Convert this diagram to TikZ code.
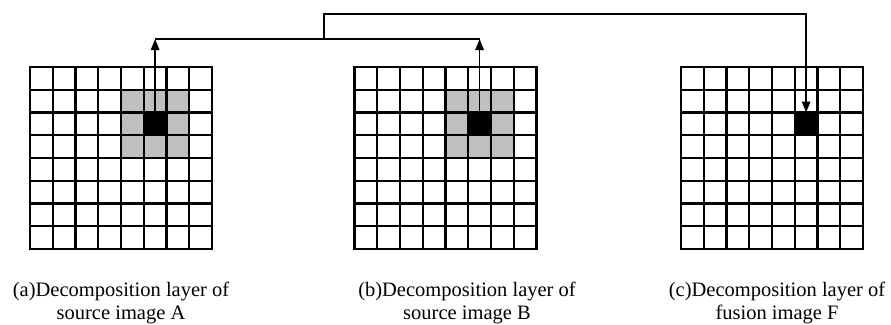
\documentclass[tikz,border=0pt]{standalone}
\usepackage{fontspec}
\setmainfont{Liberation Serif}
\usetikzlibrary{arrows.meta}
\begin{document}
\begin{tikzpicture}[x=1pt,y=-1pt,
  gridline/.style={line width=2.2pt, line cap=rect},
  conn/.style={line width=1.4pt},
  tipend/.style={-{Triangle[length=11pt,width=8.5pt]}},
  cellbox/.style={minimum size=22.75pt, inner sep=0pt, outer sep=0pt, draw=none},
  lbl/.style={font=\fontsize{20.5}{23}\selectfont, align=center, inner sep=0pt}]
\useasboundingbox (0,0) rectangle (891,324);
\def\cs{22.75}
% gray neighbourhoods
\foreach \ox in {30,354.5}{
  \fill[gray!50] (\ox+4*\cs,67+\cs) rectangle (\ox+7*\cs,67+4*\cs);
}
% black centre cells
\node[cellbox, fill=black] (ca) at (30+5.5*\cs, 67+2.5*\cs) {};
\node[cellbox, fill=black] (cb) at (354.5+5.5*\cs, 67+2.5*\cs) {};
\node[cellbox, fill=black] (cc) at (681+5.5*\cs, 67+2.5*\cs) {};
% grids
\foreach \ox in {30,354.5,681}{
  \foreach \i in {0,...,8}{
    \draw[gridline] (\ox+\i*\cs,67) -- (\ox+\i*\cs,67+8*\cs);
    \draw[gridline] (\ox,67+\i*\cs) -- (\ox+8*\cs,67+\i*\cs);
  }
}
% connectors
\coordinate (split) at (324,39);
\coordinate (top) at (324,14);
\draw[conn,tipend] (ca.north) -- (ca |- split);
\draw[conn,tipend] (cb.north) -- (cb |- split);
\draw[conn] (ca |- split) -- (cb |- split);
\draw[conn,tipend] (split) -- (top) -| (cc.north);
% labels
\node[lbl] (la) at (121,303) {(a)Decomposition layer of\\source image A};
\node[lbl] (lb) at (467,303) {(b)Decomposition layer of\\source image B};
\node[lbl] (lc) at (777,303) {(c)Decomposition layer of\\fusion image F};
\end{tikzpicture}
\end{document}
